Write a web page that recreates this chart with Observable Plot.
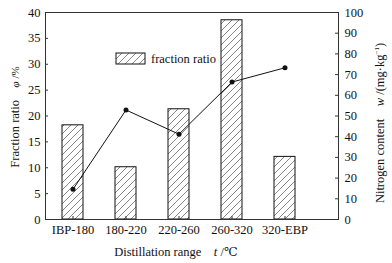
<!DOCTYPE html>
<html><head><meta charset="utf-8">
<script src="https://cdn.jsdelivr.net/npm/d3@7"></script>
<script src="https://cdn.jsdelivr.net/npm/@observablehq/plot@0.6"></script>
<style>body{margin:0;background:#fff} svg{display:block}</style>
</head><body><div id="chart"></div>
<script>
const categories = ["IBP-180", "180-220", "220-260", "260-320", "320-EBP"];
const fractionRatio = [18.2, 10.1, 21.3, 38.5, 12.1];
const nitrogenContent = [14.6, 52.9, 41.2, 66.4, 73.3];
const leftTicks = [0, 5, 10, 15, 20, 25, 30, 35, 40];
const rightTicks = [0, 10, 20, 30, 40, 50, 60, 70, 80, 90, 100];

const W = 392, H = 263, mL = 45, mR = 54, mT = 12, mB = 44;
const fw = W - mL - mR, fh = H - mT - mB;
const ratio = 40 / 100;
const data = categories.map((c, i) => ({c, f: fractionRatio[i], n: nitrogenContent[i]}));
const font = "'Liberation Serif', 'DejaVu Serif', serif";

const chart = Plot.plot({
  width: W, height: H,
  marginLeft: mL, marginRight: mR, marginTop: mT, marginBottom: mB,
  style: {fontFamily: font, fontSize: "12.5px", color: "#111", background: "#fff"},
  x: {domain: categories, range: [61, 296.4], paddingInner: 0.6, paddingOuter: 0, axis: null},
  y: {domain: [0, 40], axis: null},
  marks: [
    Plot.barY(data, {x: "c", y: "f", fill: "url(#hatch)", stroke: "#111", strokeWidth: 1}),
    Plot.frame({stroke: "#333"}),
    Plot.tickY(leftTicks, {y: d => d, insetRight: fw - 3, stroke: "#333"}),
    Plot.tickY(rightTicks, {y: d => d * ratio, insetLeft: fw - 3, stroke: "#333"}),
    Plot.tickX(categories, {x: d => d, insetTop: fh - 3, stroke: "#333"}),
    Plot.axisY(leftTicks, {anchor: "left", tickSize: 0, tickPadding: 5, label: null}),
    Plot.axisY(rightTicks.map(v => v * ratio), {anchor: "right", tickSize: 0, tickPadding: 6, label: null, tickFormat: d => String(Math.round(d / ratio))}),
    Plot.axisX({tickSize: 0, tickPadding: 6, label: null}),
    Plot.line(data, {x: "c", y: d => d.n * ratio, stroke: "#111", strokeWidth: 1}),
    Plot.dot(data, {x: "c", y: d => d.n * ratio, r: 2.5, fill: "#111"})
  ]
});

const svg = d3.select(chart);
const defs = svg.insert("defs", ":first-child");
const pat = defs.append("pattern").attr("id", "hatch").attr("patternUnits", "userSpaceOnUse")
  .attr("width", 7).attr("height", 7);
pat.append("rect").attr("width", 7).attr("height", 7).attr("fill", "#fff");
pat.append("path").attr("d", "M-1,1 L1,-1 M0,7 L7,0 M6,8 L8,6")
  .attr("stroke", "#555").attr("stroke-width", 0.7);

// legend
svg.append("rect").attr("x", 116).attr("y", 53).attr("width", 29).attr("height", 11)
  .attr("fill", "url(#hatch)").attr("stroke", "#111");
svg.append("text").attr("x", 151).attr("y", 62.5).attr("text-anchor", "start")
  .attr("font-family", font).attr("font-size", 12.5).attr("fill", "#111").text("fraction ratio");

// left title
const lt = svg.append("text").attr("transform", "translate(19,117) rotate(-90)")
  .attr("text-anchor", "middle").attr("font-family", font).attr("font-size", 12.5).attr("fill", "#111");
lt.append("tspan").text("Fraction ratio\u2002\u2002");
lt.append("tspan").attr("font-style", "italic").attr("font-size", 11).text("φ");
lt.append("tspan").attr("font-size", 11).text(" /%");

// right title
const rt = svg.append("text").attr("transform", "translate(384,123) rotate(-90)")
  .attr("text-anchor", "middle").attr("font-family", font).attr("font-size", 12.5).attr("fill", "#111");
rt.append("tspan").text("Nitrogen content\u2002\u2002");
rt.append("tspan").attr("font-style", "italic").text("w");
rt.append("tspan").text(" /(mg·kg");
rt.append("tspan").attr("font-size", 7).attr("dy", -5).text("−1");
rt.append("tspan").attr("dy", 5).text(")");

// x title
const xt = svg.append("text").attr("x", 176).attr("y", 256)
  .attr("text-anchor", "middle").attr("font-family", font).attr("font-size", 12.5).attr("fill", "#111");
xt.append("tspan").text("Distillation range\u2002\u2002");
xt.append("tspan").attr("font-style", "italic").text("t");
xt.append("tspan").text(" /℃");

document.getElementById("chart").appendChild(chart);
</script>
</body></html>
